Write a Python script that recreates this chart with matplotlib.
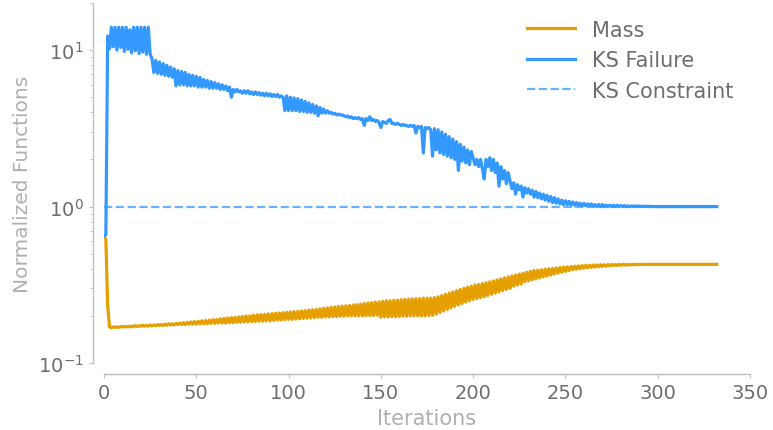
import numpy as np
import matplotlib
matplotlib.use('Agg')
import matplotlib.pyplot as plt

# Normalized objective / constraint history
ks_failure = [
    0.65, 0.66, 12.3, 10.2, 14.0, 10.5, 14.0, 10.0, 14.0, 10.4,
    14.0, 9.8, 14.0, 10.1, 13.5, 9.6, 14.0, 9.9, 14.0, 9.5,
    14.0, 9.7, 14.0, 9.4, 14.0, 9.4, 8.8, 7.2, 8.6, 7.1,
    8.4, 7.0, 8.2, 6.9, 8.0, 6.8, 7.8, 6.7, 7.6, 5.9,
    7.4, 6.0, 7.3, 6.0, 7.2, 5.9, 7.0, 5.9, 6.9, 5.9,
    6.8, 5.8, 6.7, 5.8, 6.5, 5.8, 6.4, 5.7, 6.3, 5.7,
    6.2, 5.7, 6.1, 5.6, 6.0, 5.6, 5.9, 5.5, 5.8, 5.0,
    5.6, 5.4, 5.6, 5.4, 5.5, 5.3, 5.5, 5.3, 5.5, 5.25,
    5.4, 5.2, 5.4, 5.2, 5.35, 5.15, 5.3, 5.1, 5.3, 5.1,
    5.25, 5.05, 5.2, 5.05, 5.2, 5.0, 5.1, 5.0, 4.1, 5.1,
    4.1, 5.0, 4.1, 4.95, 4.1, 4.9, 4.05, 4.8, 4.05, 4.7,
    4.0, 4.6, 4.0, 4.5, 3.95, 4.4, 3.8, 4.3, 3.95, 4.2,
    3.95, 4.1, 3.95, 4.0, 3.9, 3.95, 3.85, 3.9, 3.85, 3.85,
    3.8, 3.75, 3.8, 3.7, 3.75, 3.65, 3.7, 3.65, 3.7, 3.6,
    3.65, 3.3, 3.65, 3.55, 3.75, 3.55, 3.6, 3.5, 3.55, 3.45,
    3.2, 3.5, 3.45, 3.4, 3.55, 3.6, 3.4, 3.4, 3.35, 3.4,
    3.35, 3.3, 3.35, 3.3, 3.3, 3.25, 3.3, 3.25, 3.3, 2.95,
    3.25, 3.2, 3.25, 2.2, 3.2, 3.15, 3.2, 3.1, 2.1, 3.15,
    2.3, 3.1, 2.2, 3.0, 2.15, 2.9, 2.1, 2.8, 2.05, 2.7,
    2.0, 2.6, 1.7, 2.5, 1.95, 2.4, 1.9, 2.3, 1.85, 2.25,
    2.05, 1.85, 2.0, 1.8, 2.0, 1.75, 1.5, 2.0, 1.8, 2.05,
    1.7, 2.0, 1.65, 1.9, 1.35, 1.8, 1.5, 1.7, 1.4, 1.65,
    1.45, 1.3, 1.42, 1.2, 1.38, 1.28, 1.35, 1.15, 1.32, 1.22,
    1.3, 1.2, 1.27, 1.15, 1.25, 1.14, 1.22, 1.12, 1.2, 1.1,
    1.18, 1.08, 1.16, 1.06, 1.14, 1.05, 1.12, 1.04, 1.1, 1.03,
    1.09, 1.03, 1.08, 1.02, 1.07, 1.02, 1.06, 1.02, 1.05, 1.01,
    1.05, 1.01, 1.04, 1.01, 1.04, 1.01, 1.03, 1.0, 1.03, 1.0,
    1.03, 1.0, 1.02, 1.0, 1.02, 1.0, 1.02, 1.0, 1.02, 1.0,
    1.015, 1.0, 1.015, 1.0, 1.01, 1.0, 1.01, 1.0, 1.01, 1.0,
    1.01, 1.0, 1.005, 1.0, 1.005, 1.0, 1.005, 1.0, 1.0, 1.0,
    1.0, 1.0, 1.0, 1.0, 1.0, 1.0, 1.0, 1.0, 1.0, 1.0,
    1.0, 1.0, 1.0, 1.0, 1.0, 1.0, 1.0, 1.0, 1.0, 1.0,
    1.0, 1.0, 1.0, 1.0, 1.0, 1.0, 1.0, 1.0, 1.0, 1.0,
    1.0, 1.0, 1.0,
]

mass = [
    0.64, 0.62, 0.23, 0.17, 0.168, 0.17, 0.169, 0.17, 0.169, 0.171,
    0.17, 0.171, 0.17, 0.172, 0.17, 0.172, 0.171, 0.173, 0.171, 0.173,
    0.172, 0.174, 0.172, 0.174, 0.172, 0.175, 0.173, 0.175, 0.173, 0.176,
    0.174, 0.176, 0.174, 0.177, 0.174, 0.178, 0.175, 0.178, 0.175, 0.179,
    0.176, 0.18, 0.176, 0.181, 0.176, 0.182, 0.177, 0.183, 0.177, 0.184,
    0.177, 0.185, 0.178, 0.186, 0.178, 0.187, 0.178, 0.188, 0.179, 0.19,
    0.179, 0.19, 0.18, 0.192, 0.18, 0.193, 0.18, 0.194, 0.181, 0.195,
    0.181, 0.196, 0.182, 0.197, 0.182, 0.198, 0.183, 0.2, 0.183, 0.2,
    0.184, 0.202, 0.184, 0.203, 0.185, 0.204, 0.185, 0.205, 0.186, 0.206,
    0.186, 0.207, 0.187, 0.208, 0.188, 0.209, 0.188, 0.21, 0.189, 0.211,
    0.19, 0.212, 0.19, 0.213, 0.191, 0.214, 0.192, 0.215, 0.193, 0.216,
    0.193, 0.218, 0.194, 0.219, 0.195, 0.22, 0.196, 0.222, 0.196, 0.224,
    0.197, 0.225, 0.197, 0.227, 0.198, 0.228, 0.198, 0.23, 0.199, 0.231,
    0.199, 0.232, 0.2, 0.233, 0.2, 0.235, 0.2, 0.236, 0.2, 0.238,
    0.2, 0.24, 0.201, 0.242, 0.201, 0.243, 0.201, 0.245, 0.202, 0.246,
    0.196, 0.248, 0.197, 0.25, 0.197, 0.25, 0.198, 0.252, 0.198, 0.252,
    0.198, 0.254, 0.199, 0.255, 0.199, 0.256, 0.2, 0.257, 0.2, 0.258,
    0.2, 0.258, 0.2, 0.26, 0.2, 0.26, 0.201, 0.26, 0.202, 0.262,
    0.205, 0.265, 0.21, 0.27, 0.215, 0.275, 0.22, 0.28, 0.225, 0.285,
    0.23, 0.29, 0.235, 0.295, 0.24, 0.3, 0.245, 0.305, 0.25, 0.31,
    0.255, 0.315, 0.258, 0.318, 0.262, 0.322, 0.265, 0.326, 0.27, 0.33,
    0.275, 0.335, 0.28, 0.34, 0.285, 0.345, 0.29, 0.35, 0.295, 0.355,
    0.3, 0.36, 0.31, 0.365, 0.315, 0.37, 0.32, 0.375, 0.33, 0.38,
    0.335, 0.385, 0.34, 0.39, 0.345, 0.392, 0.35, 0.395, 0.355, 0.398,
    0.36, 0.4, 0.365, 0.403, 0.37, 0.405, 0.375, 0.408, 0.38, 0.41,
    0.385, 0.412, 0.39, 0.414, 0.395, 0.416, 0.398, 0.418, 0.4, 0.42,
    0.403, 0.421, 0.406, 0.422, 0.408, 0.423, 0.41, 0.424, 0.412, 0.425,
    0.414, 0.425, 0.416, 0.426, 0.418, 0.426, 0.419, 0.426, 0.42, 0.427,
    0.421, 0.427, 0.422, 0.427, 0.423, 0.427, 0.424, 0.427, 0.425, 0.427,
    0.426, 0.427, 0.426, 0.427, 0.427, 0.427, 0.427, 0.427, 0.427, 0.427,
    0.427, 0.427, 0.427, 0.427, 0.427, 0.427, 0.427, 0.427, 0.427, 0.427,
    0.427, 0.427, 0.427, 0.427, 0.427, 0.427, 0.427, 0.427, 0.427, 0.427,
    0.427, 0.427, 0.427, 0.427, 0.427, 0.427, 0.427, 0.427, 0.427, 0.427,
    0.427, 0.427, 0.427,
]

ks_limit = 1.0
iterations = np.arange(len(mass))

orange = '#E69F00'
blue = '#3399FF'
tick_grey = '#6e6e6e'
label_grey = '#b0b0b0'

fig = plt.figure(figsize=(7.73, 4.31), dpi=100)
ax = fig.add_axes([104 / 773, 67 / 431, 646 / 773, 360 / 431])

ax.plot(iterations, mass, color=orange, lw=2.3, label='Mass')
ax.plot(iterations, ks_failure, color=blue, lw=2.3, label='KS Failure')
ax.plot([iterations[0], iterations[-1]], [ks_limit, ks_limit], color=blue,
        lw=1.6, ls='--', alpha=0.75, label='KS Constraint')

ax.set_yscale('log')
ax.set_xlim(0, 350)
ax.set_ylim(0.1, 20)

# detached left / bottom spines, no top / right
for side in ['top', 'right']:
    ax.spines[side].set_visible(False)
for side in ['left', 'bottom']:
    ax.spines[side].set_position(('outward', 8))
    ax.spines[side].set_color('#c0c0c0')
    ax.spines[side].set_linewidth(1)

ax.tick_params(axis='both', which='major', length=3, color='#c0c0c0',
               labelcolor=tick_grey, labelsize=14)
ax.tick_params(axis='y', which='minor', length=2, color='#c0c0c0')

ax.set_xlabel('Iterations', fontsize=15, color=label_grey)
ax.set_ylabel('Normalized Functions', fontsize=14.5, color=label_grey)

leg = ax.legend(loc='upper right', frameon=False, fontsize=15,
                handlelength=2.3, labelspacing=0.5, borderaxespad=0.4)
for txt in leg.get_texts():
    txt.set_color(tick_grey)

plt.savefig('out.png', dpi=100)
plt.close()
